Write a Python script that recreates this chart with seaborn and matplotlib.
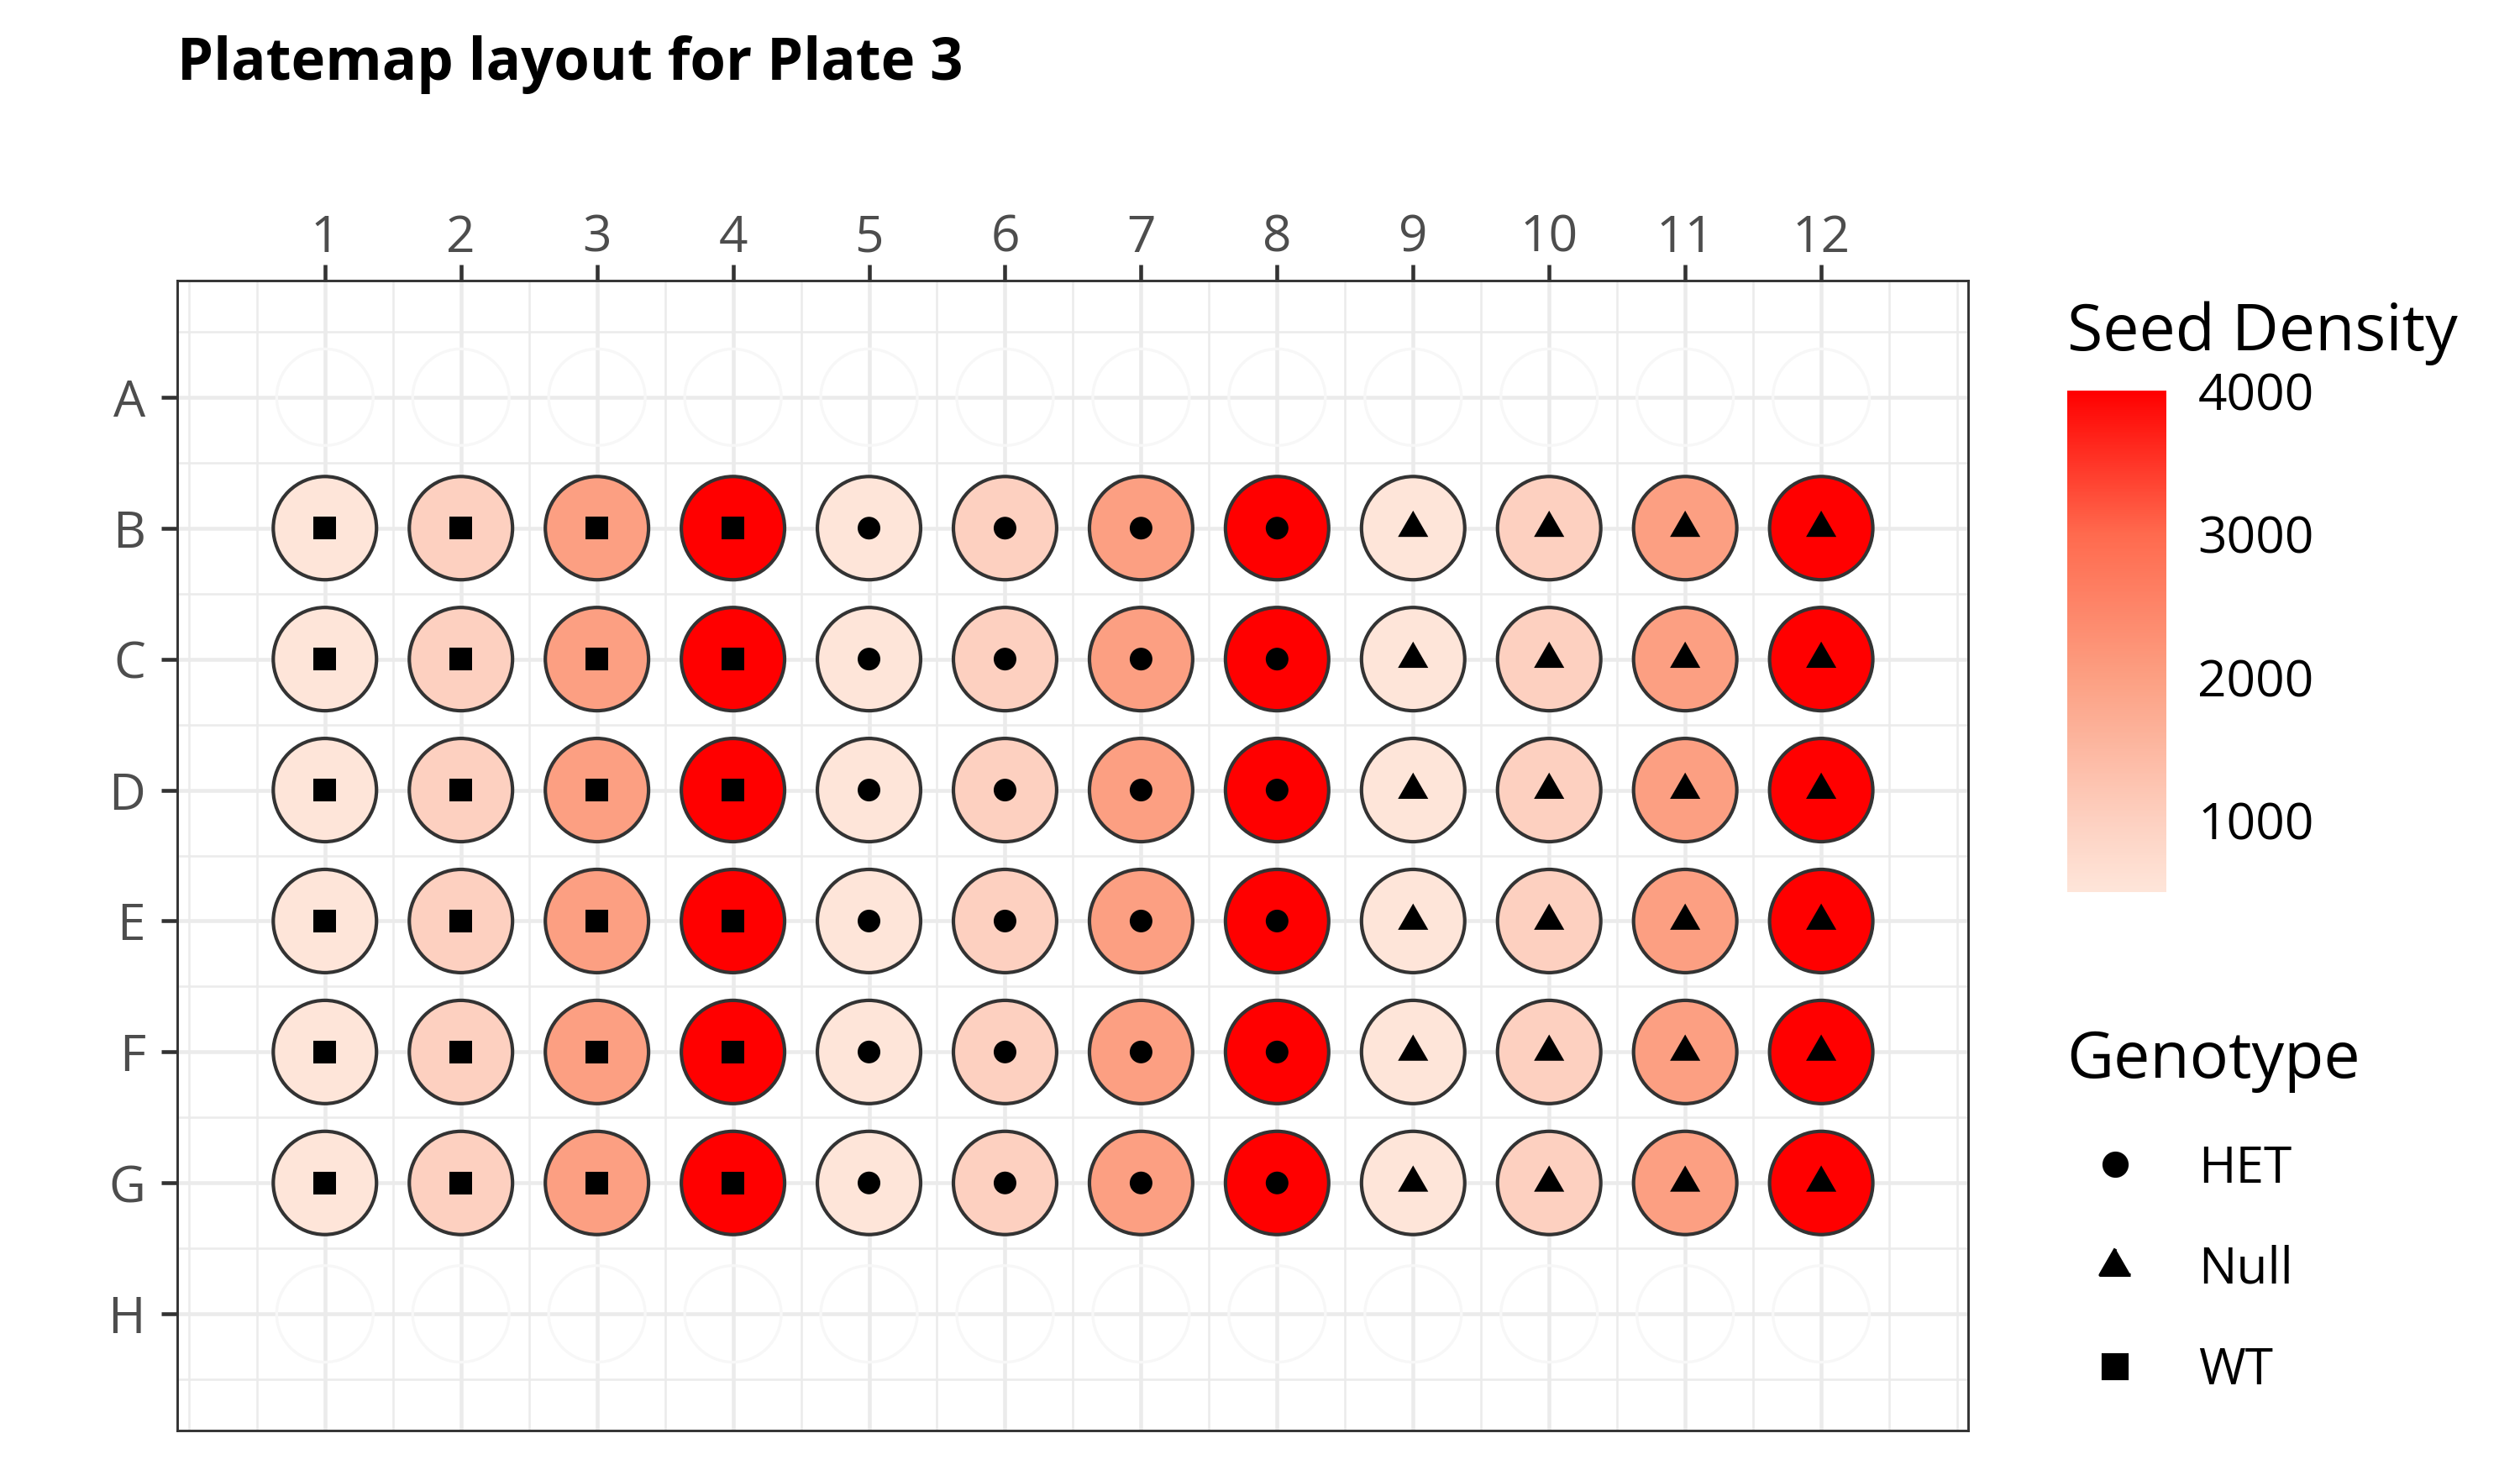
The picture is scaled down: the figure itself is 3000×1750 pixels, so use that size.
import numpy as np
import pandas as pd
import matplotlib
matplotlib.use("Agg")
import matplotlib.pyplot as plt
from matplotlib.colors import LinearSegmentedColormap, Normalize
from matplotlib.lines import Line2D
import seaborn as sns

# data
row_names = ["A", "B", "C", "D", "E", "F", "G", "H"]
col_numbers = list(range(1, 13))
filled_rows = ["B", "C", "D", "E", "F", "G"]
col_genotype = ["WT"] * 4 + ["HET"] * 4 + ["Null"] * 4
col_density = [500, 1000, 2000, 4000] * 3
genotype_order = ["HET", "Null", "WT"]
density_ticks = [1000, 2000, 3000, 4000]

# colour scale (light pink -> red)
cmap_values = [500, 1000, 2000, 3000, 4000]
cmap_colors = ["#FEE5D9", "#FDD0C0", "#FC9F82", "#FF6A4E", "#FF0000"]
vmin, vmax = 500, 4000
cmap = LinearSegmentedColormap.from_list(
    "seed", [((v - vmin) / (vmax - vmin), c) for v, c in zip(cmap_values, cmap_colors)])

row_idx = {r: i + 1 for i, r in enumerate(row_names)}

all_wells = pd.DataFrame([(r, c) for r in row_names for c in col_numbers], columns=["row", "col"])
all_wells["y"] = all_wells["row"].map(row_idx)

wells = pd.DataFrame([
    {"row": r, "col": c, "genotype": g, "density": d}
    for r in filled_rows for c, g, d in zip(col_numbers, col_genotype, col_density)
])
wells["y"] = wells["row"].map(row_idx)

# style
sns.set_style("white")
plt.rcParams["font.family"] = ["Open Sans", "DejaVu Sans"]
plt.rcParams["text.color"] = "black"

fig = plt.figure(figsize=(10, 1750 / 300), dpi=300)
ax = fig.add_axes([0.0703, 0.0269, 0.7107, 0.7822])

# empty well outlines
sns.scatterplot(data=all_wells, x="col", y="y", s=760, facecolor="none",
                edgecolor="#F7F7F7", linewidth=0.8, legend=False, ax=ax, zorder=2)

# filled wells
sns.scatterplot(data=wells, x="col", y="y", hue="density", palette=cmap,
                hue_norm=(vmin, vmax), s=870, edgecolor="#333333", linewidth=1.0,
                legend=False, ax=ax, zorder=3)

tri = [(0, 1), (-0.866, -0.5), (0.866, -0.5)]
shape_map = {"HET": "o", "Null": tri, "WT": "s"}
size_map = {"HET": 42, "Null": 100, "WT": 42}
for g in genotype_order:
    sub = wells[wells["genotype"] == g]
    sns.scatterplot(data=sub, x="col", y="y", marker=shape_map[g], s=size_map[g],
                    color="black", edgecolor="none", linewidth=0, legend=False,
                    ax=ax, zorder=4)

ax.set_xlim(-0.086, 13.08)
ax.set_ylim(8.89, 0.11)
ax.set_xticks(col_numbers)
ax.set_xticklabels([str(c) for c in col_numbers])
ax.set_yticks(list(row_idx.values()))
ax.set_yticklabels(row_names)
ax.set_xticks([0] + [c + 0.5 for c in range(0, 13)] + [13], minor=True)
ax.set_yticks([r + 0.5 for r in range(0, 9)], minor=True)
ax.xaxis.tick_top()
ax.set_xlabel("")
ax.set_ylabel("")
ax.grid(which="major", color="#EBEBEB", linewidth=1.1)
ax.grid(which="minor", color="#EBEBEB", linewidth=0.6)
ax.set_axisbelow(True)
ax.tick_params(which="major", top=True, bottom=False, left=True, right=False,
               direction="out", length=4.6, width=1.1, color="#333333",
               labelsize=14.5, labelcolor="#4D4D4D")
ax.tick_params(axis="x", pad=0.3)
ax.tick_params(axis="y", pad=4.5)
ax.tick_params(which="minor", length=0)
for sp in ax.spines.values():
    sp.set_color("#333333")
    sp.set_linewidth(0.7)

fig.text(0.0703, 0.946, "Platemap layout for Plate 3", fontsize=16.5,
         fontweight="bold", color="black", ha="left", va="baseline")

# colorbar
cax = fig.add_axes([0.8203, 0.3931, 0.0393, 0.3411])
sm = plt.cm.ScalarMappable(norm=Normalize(vmin, vmax), cmap=cmap)
cb = fig.colorbar(sm, cax=cax, ticks=density_ticks)
cb.outline.set_visible(False)
cax.tick_params(direction="in", color="white", length=5.5, width=0.6,
                left=True, right=True, labelleft=False, labelright=True,
                labelsize=14.5, labelcolor="black", pad=9)
cax.set_title("Seed Density", loc="left", fontsize=18.5, pad=11.5, color="black")

# genotype legend
handles = [Line2D([], [], linestyle="none", marker=shape_map[g], color="black",
                  markersize=np.sqrt(size_map[g])) for g in genotype_order]
leg = fig.legend(handles, genotype_order, title="Genotype", loc="upper left",
                 bbox_to_anchor=(0.810, 0.3175), frameon=False, fontsize=14.5,
                 title_fontsize=18.5, labelspacing=1.0, handlelength=1.9,
                 handletextpad=0.7, borderpad=0, alignment="left")
for t in leg.get_texts():
    t.set_color("black")
leg.get_title().set_color("black")

fig.savefig("out.png", dpi=300)
